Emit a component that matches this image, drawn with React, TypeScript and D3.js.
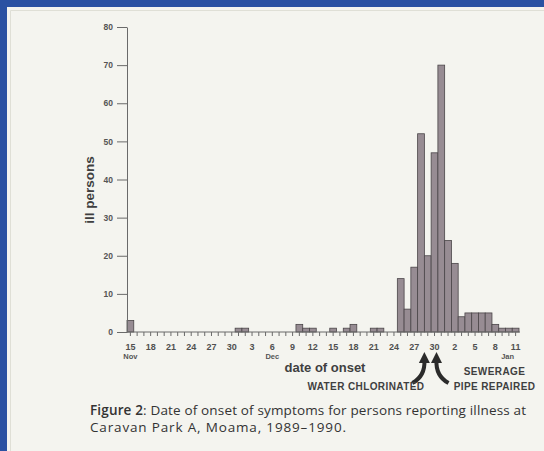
import React, { useRef, useEffect } from 'react';
import * as d3 from 'd3';

// one bar per day, 15 Nov 1989 .. 11 Jan 1990
const days: Date[] = d3.timeDay.range(new Date(1989, 10, 15), new Date(1990, 0, 12));

const illPersons = [
  3, 0, 0, 0, 0, 0, 0, 0, 0, 0, 0, 0, 0, 0, 0, 0, // 15-30 Nov
  1, 1, 0, 0, 0, 0, 0, 0, 0, // 1-9 Dec
  2, 1, 1, 0, 0, 1, 0, 1, 2, 0, 0, 1, 1, 0, 0, // 10-24 Dec
  14, 6, 17, 52, 20, 47, 70, // 25-31 Dec
  24, 18, 4, 5, 5, 5, 5, 2, 1, 1, 1, // 1-11 Jan
];

const yTicks = [0, 10, 20, 30, 40, 50, 60, 70, 80];
const xTickLabels = ['15', '18', '21', '24', '27', '30', '3', '6', '9', '12', '15', '18', '21', '24', '27', '30', '2', '5', '8', '11'];
const monthLabels = ['Nov', 'Dec', 'Jan'];
const monthDates = [new Date(1989, 10, 15), new Date(1989, 11, 6), new Date(1990, 0, 11)];
const eventLabels = [['WATER CHLORINATED'], ['SEWERAGE', 'PIPE REPAIRED']];
const eventDates = [new Date(1989, 11, 28), new Date(1989, 11, 30)];

const W = 544;
const H = 451;
const FONT = '"Liberation Sans", Arial, sans-serif';
const INK = '#3f3f3f';

export default function App() {
  const ref = useRef<SVGSVGElement>(null);

  useEffect(() => {
    const svg = d3.select(ref.current);
    svg.selectAll('*').remove();

    // page + blue frame
    svg.append('rect').attr('width', W).attr('height', H).attr('fill', '#2a51a2');
    svg.append('rect').attr('x', 7).attr('y', 7).attr('width', W - 7).attr('height', H - 7).attr('fill', '#f4f4ef');
    svg.append('path').attr('d', `M10.5,${H} V10.5 H${W}`).attr('fill', 'none').attr('stroke', '#dfdfd6');

    const key = (d: Date) => d3.timeFormat('%Y-%m-%d')(d);
    const x = d3.scaleBand<string>().domain(days.map(key)).range([127, 519]).padding(0);
    const y = d3.scaleLinear().domain([0, 80]).range([332, 27]);

    // bars
    svg.append('g')
      .selectAll('rect')
      .data(days.map((d, i) => ({ d, v: illPersons[i] })).filter(o => o.v > 0))
      .enter().append('rect')
      .attr('x', o => x(key(o.d)) as number)
      .attr('width', x.bandwidth())
      .attr('y', o => y(o.v))
      .attr('height', o => y(0) - y(o.v))
      .attr('fill', '#978c93')
      .attr('stroke', '#4a4548')
      .attr('stroke-width', 0.8);

    // y axis
    const ya = svg.append('g')
      .attr('transform', `translate(${x.range()[0]},0)`)
      .call(d3.axisLeft(y).tickValues(yTicks).tickSize(10).tickPadding(4).tickSizeOuter(0));
    ya.select('.domain').attr('stroke', '#6a6a6a');
    ya.selectAll('line').attr('stroke', '#6a6a6a');
    ya.selectAll('text').attr('font-family', FONT).attr('font-size', 8.5).attr('font-weight', 'bold').attr('fill', '#555');

    // x axis, a tick every day, a label every third day
    const labelFor = (s: string) => {
      const i = x.domain().indexOf(s);
      return i % 3 === 0 ? xTickLabels[i / 3] : '';
    };
    const xa = svg.append('g')
      .attr('transform', `translate(0,${y(0)})`)
      .call(d3.axisBottom(x).tickSize(4).tickPadding(8).tickSizeOuter(0).tickFormat(labelFor));
    xa.select('.domain').attr('stroke', '#6a6a6a').attr('d', `M${x.range()[0]},0H${x.range()[1] + 1}`);
    xa.selectAll('line').attr('stroke', '#6a6a6a');
    xa.selectAll('text').attr('font-family', FONT).attr('font-size', 9).attr('font-weight', 'bold').attr('fill', '#505050');

    monthLabels.forEach((m, i) => {
      svg.append('text')
        .attr('x', (x(key(monthDates[i])) as number) + x.bandwidth() / 2 + (m === 'Jan' ? -8 : 0))
        .attr('y', 359)
        .attr('text-anchor', 'middle')
        .attr('font-family', FONT).attr('font-size', 7.5).attr('font-weight', 'bold').attr('fill', '#555')
        .text(m);
    });

    // axis titles
    svg.append('text')
      .attr('transform', 'translate(94,190) rotate(-90)')
      .attr('text-anchor', 'middle')
      .attr('font-family', FONT).attr('font-size', 13.5).attr('font-weight', 'bold').attr('fill', INK)
      .text('ill persons');
    svg.append('text')
      .attr('x', 325).attr('y', 372)
      .attr('text-anchor', 'middle')
      .attr('font-family', FONT).attr('font-size', 13).attr('font-weight', 'bold').attr('fill', INK)
      .text('date of onset');

    // events: curved arrows pointing at the date
    eventDates.forEach((d, i) => {
      const left = i === 0;
      const tipX = (x(key(d)) as number) + (left ? x.bandwidth() : x.bandwidth() / 2 + 2);
      const tipY = 352;
      const dir = left ? -1 : 1;
      const tailX = tipX + dir * 12;
      svg.append('path')
        .attr('d', `M${tailX},383 Q${tipX - dir * 1},376 ${tipX},360`)
        .attr('fill', 'none').attr('stroke', '#2b2b2b').attr('stroke-width', 4);
      svg.append('path')
        .attr('d', `M${tipX - 5.5},363 L${tipX},${tipY} L${tipX + 5.5},363 Z`)
        .attr('fill', '#2b2b2b');

      const lines = eventLabels[i];
      lines.forEach((t, j) => {
        svg.append('text')
          .attr('x', left ? tipX : tipX + 58)
          .attr('y', 390 - (lines.length - 1 - j) * 15)
          .attr('text-anchor', left ? 'end' : 'middle')
          .attr('font-family', FONT).attr('font-size', 10).attr('font-weight', 'bold')
          .attr('letter-spacing', 0.4).attr('fill', INK)
          .text(t);
      });
    });

    // caption
    const cap = svg.append('text')
      .attr('font-family', '"Open Sans", sans-serif').attr('font-size', 13.5).attr('fill', '#333');
    const l1 = cap.append('tspan').attr('x', 90).attr('y', 415)
      .attr('textLength', 436).attr('lengthAdjust', 'spacing');
    l1.append('tspan').attr('font-weight', 600).text('Figure 2');
    l1.append('tspan').text(': Date of onset of symptoms for persons reporting illness at');
    cap.append('tspan').attr('x', 90).attr('y', 432)
      .attr('textLength', 256).attr('lengthAdjust', 'spacing')
      .text('Caravan Park A, Moama, 1989\u20131990.');
  }, []);

  return (
    <div style={{ position: 'absolute', left: 0, top: 0 }}>
      <svg ref={ref} width={W} height={H} style={{ display: 'block' }} />
    </div>
  );
}
